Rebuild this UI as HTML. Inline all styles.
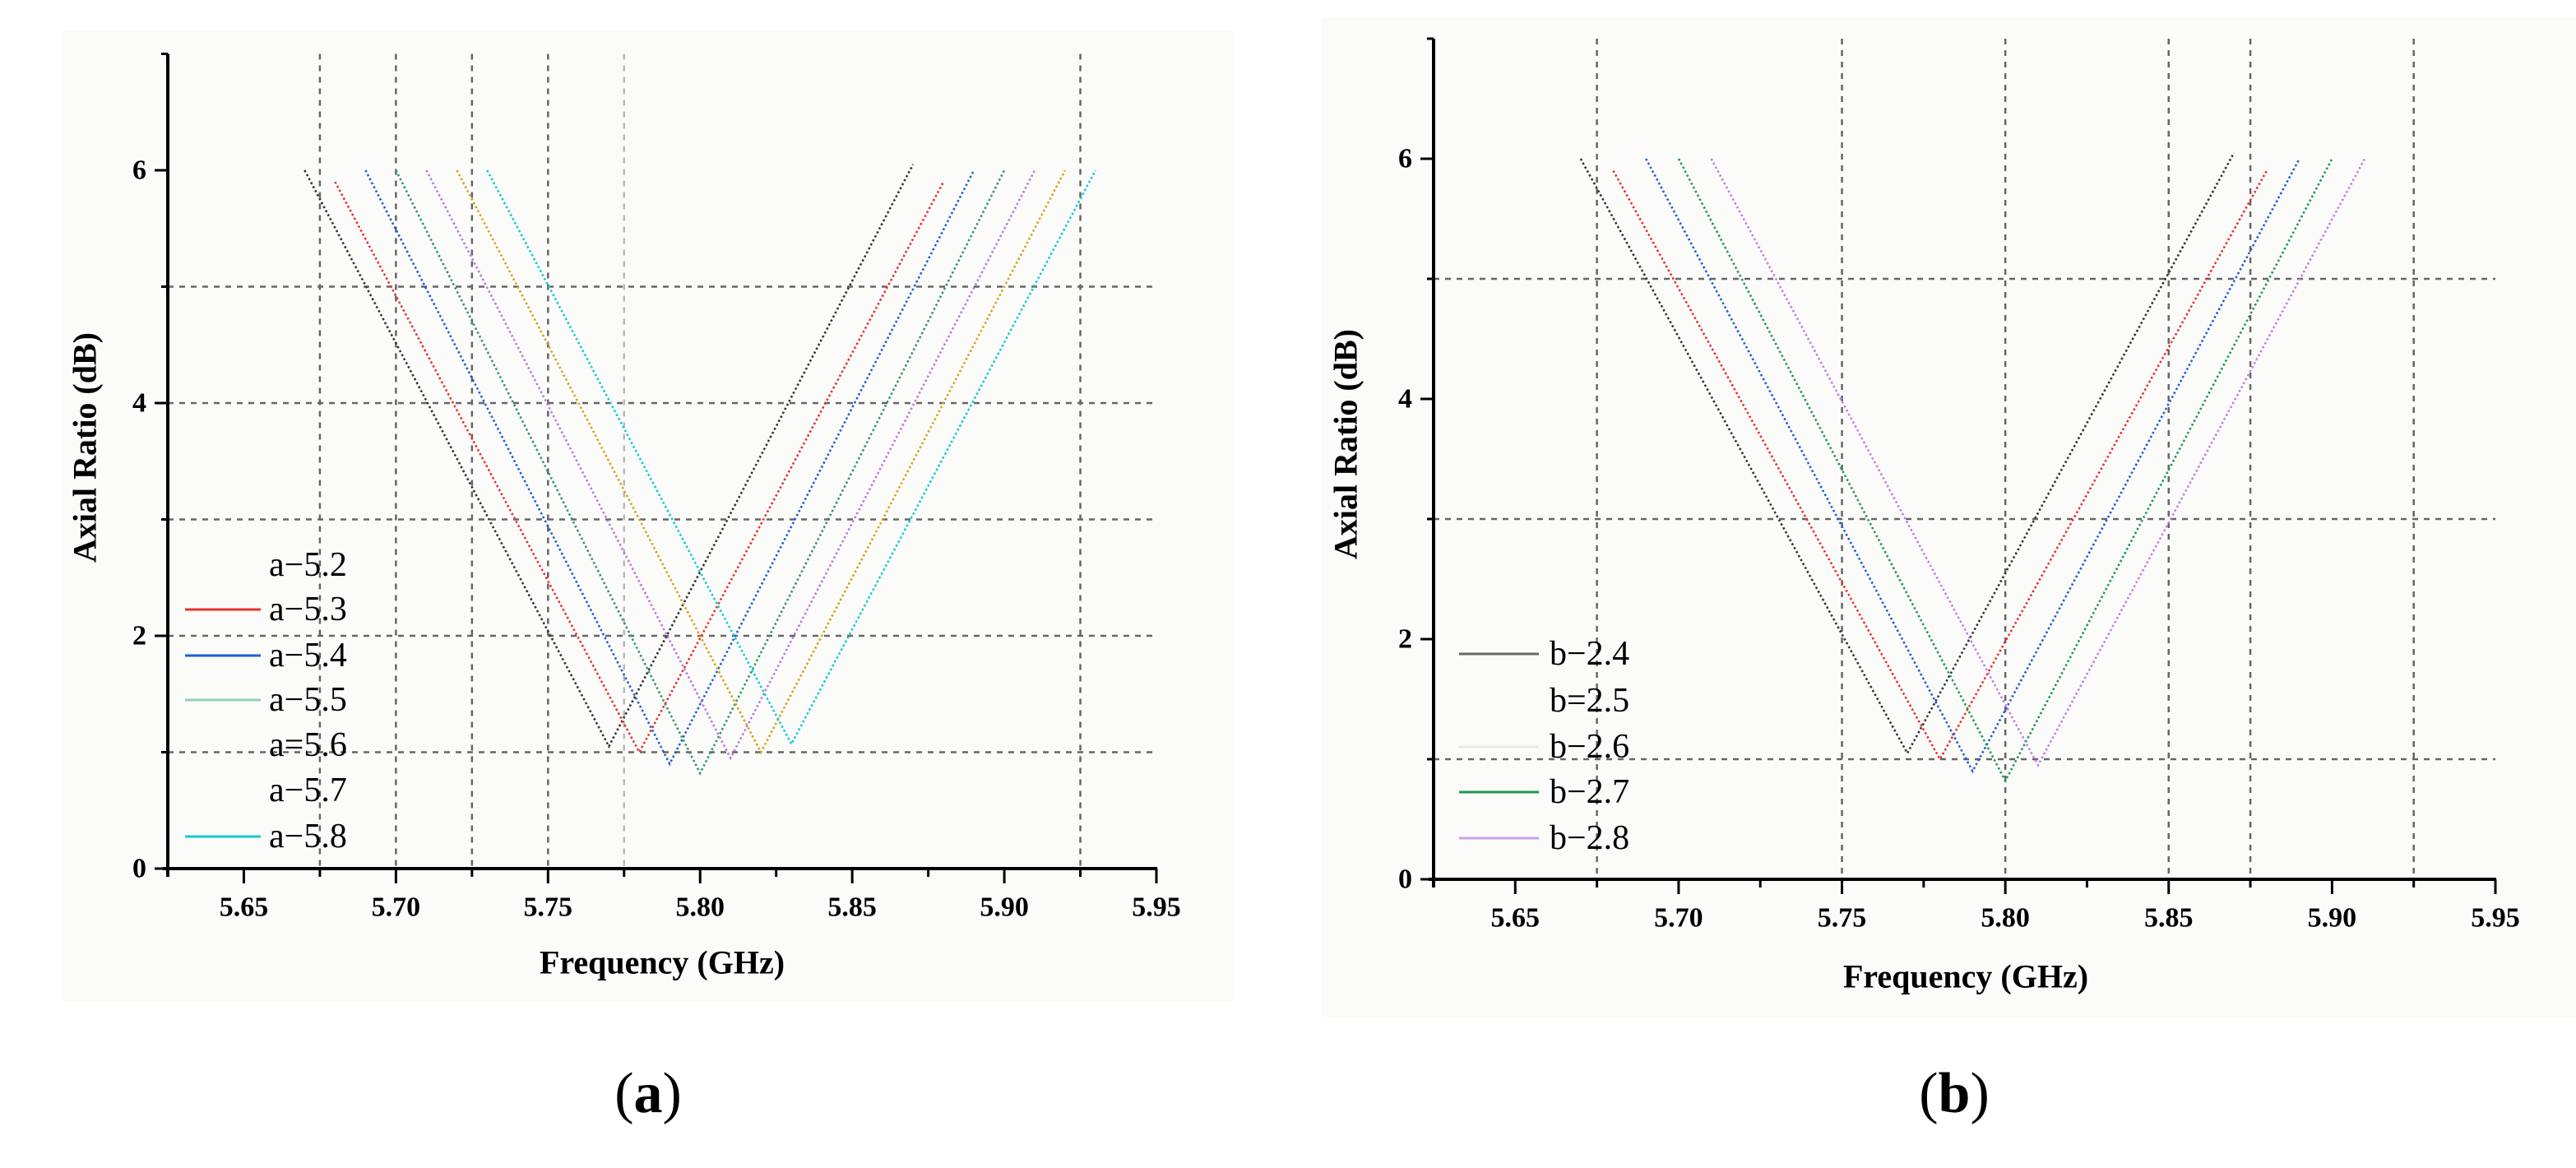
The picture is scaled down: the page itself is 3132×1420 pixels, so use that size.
<!DOCTYPE html>
<html><head><meta charset="utf-8">
<style>
html,body{margin:0;padding:0;background:#fff;}
svg{display:block;}
text{font-family:"Liberation Serif",serif;}
</style></head>
<body>
<svg id="svg" width="3132" height="1420" viewBox="0 0 3132 1420" xmlns="http://www.w3.org/2000/svg">
<rect x="75" y="37" width="1425" height="1180" fill="#fbfbfa"/>
<rect x="1606" y="21" width="1526" height="1216" fill="#fbfbfa"/>
<g id="chartA"></g>
<g id="chartB"></g>
<text x="788" y="1352" font-size="70" text-anchor="middle">(<tspan font-weight="bold">a</tspan>)</text>
<text x="2376" y="1352" font-size="70" text-anchor="middle">(<tspan font-weight="bold">b</tspan>)</text>
</svg>
<script>
// Chart A data
const aNames = ["a\u22125.2","a\u22125.3","a\u22125.4","a\u22125.5","a=5.6","a\u22125.7","a\u22125.8"];
const aColors = ["#333333","#e8322a","#1f5fd6","#2e9a5e","#b77be0","#d9a21a","#10cccc"];
const aLegendColors = ["#ffffff00","#e8322a","#1f5fd6","#8fd4a8","#ffffff00","#ffffff00","#10cccc"];
const aStartF = [5.67,5.68,5.69,5.70,5.71,5.72,5.73];
const aStartV = [6.0,5.9,6.0,6.0,6.0,6.0,6.0];
const aMinF = [5.77,5.78,5.79,5.80,5.81,5.82,5.83];
const aMinV = [1.05,1.0,0.9,0.82,0.95,1.0,1.07];
const aEndF = [5.87,5.88,5.89,5.90,5.91,5.92,5.93];
const aEndV = [6.05,5.9,6.0,6.0,6.0,6.0,6.0];
// Chart B data
const bNames = ["b\u22122.4","b=2.5","b\u22122.6","b\u22122.7","b\u22122.8"];
const bColors = ["#333333","#e8322a","#1f5fd6","#1e9a50","#c27fe4"];
const bLegendColors = ["#6a6a6a","#ffffff00","#e8e8e8","#1e9a50","#c9a0ea"];
const bStartF = [5.67,5.68,5.69,5.70,5.71];
const bStartV = [6.0,5.9,6.0,6.0,6.0];
const bMinF = [5.77,5.78,5.79,5.80,5.81];
const bMinV = [1.05,1.0,0.9,0.82,0.95];
const bEndF = [5.87,5.88,5.89,5.90,5.91];
const bEndV = [6.05,5.9,6.0,6.0,6.0];
const xTicks = [5.65,5.70,5.75,5.80,5.85,5.90,5.95];
const xTickLabels = ["5.65","5.70","5.75","5.80","5.85","5.90","5.95"];
const yTicks = [0,2,4,6];
const aVGrid = [5.675,5.70,5.725,5.75,5.775,5.925];
const aHGrid = [1,2,3,4,5];
const bVGrid = [5.675,5.75,5.80,5.85,5.875,5.925];
const bHGrid = [1,3,5];

const NS="http://www.w3.org/2000/svg";
function mk(parent,tag,attrs,txt){const e=document.createElementNS(NS,tag);for(const k in attrs)e.setAttribute(k,attrs[k]);if(txt!==undefined)e.textContent=txt;parent.appendChild(e);return e;}

function draw(g,cfg){
  const X=f=>cfg.x0+(f-5.625)/0.325*(cfg.x1-cfg.x0);
  const Y=v=>cfg.y0-v*cfg.ky;
  const top=Y(7);
  cfg.vgrid.forEach(f=>{
    const l=mk(g,"line",{x1:X(f),x2:X(f),y1:top,y2:cfg.y0,stroke:Math.abs(f-5.775)<1e-6?"#b8b8b8":"#666",
      "stroke-width":2.5,"stroke-dasharray":"7,7"});
    
    
  });
  cfg.hgrid.forEach(v=>{
    const l=mk(g,"line",{x1:cfg.x0,x2:X(5.95),y1:Y(v),y2:Y(v),stroke:"#666","stroke-width":2.5,"stroke-dasharray":"7,7"});
    
    
  });
  for(let i=0;i<cfg.names.length;i++){
    const pts=[[cfg.sf[i],cfg.sv[i]],[cfg.mf[i],cfg.mv[i]],[cfg.ef[i],cfg.ev[i]]].map(p=>X(p[0]).toFixed(1)+","+Y(p[1]).toFixed(1)).join(" ");
    const pl=mk(g,"polyline",{points:pts,fill:"none",stroke:cfg.colors[i],"stroke-width":2.6,"stroke-dasharray":"2.5,3"});
    
    
  }
  const ax=mk(g,"line",{x1:cfg.x0-6,x2:X(5.95)+1,y1:cfg.y0,y2:cfg.y0,stroke:"#000","stroke-width":4});
  
  
  const ay=mk(g,"line",{x1:cfg.x0,x2:cfg.x0,y1:top,y2:cfg.y0+10,stroke:"#000","stroke-width":4});
  
  
  for(let k=0;k<=13;k++){
    const f=5.625+k*0.025;
    const major=(k%2===1);
    mk(g,"line",{x1:X(f),x2:X(f),y1:cfg.y0,y2:cfg.y0+(major?18:10),stroke:"#000","stroke-width":3});
  }
  xTicks.forEach((f,i)=>{
    const t=mk(g,"text",{x:X(f),y:cfg.xlab,"font-size":34,"font-weight":"bold","text-anchor":"middle","dominant-baseline":"central"},xTickLabels[i]);
    
    
  });
  for(let v=0;v<=7;v++){
    mk(g,"line",{x1:cfg.x0-(v%2===0?16:8),x2:cfg.x0,y1:Y(v),y2:Y(v),stroke:"#000","stroke-width":3});
  }
  yTicks.forEach(v=>{
    const t=mk(g,"text",{x:cfg.x0-26,y:Y(v),"font-size":34,"font-weight":"bold","text-anchor":"end","dominant-baseline":"central"},String(v));
    
    
  });
  const xt=mk(g,"text",{x:cfg.xtX,y:cfg.xtY,"font-size":40,"font-weight":"bold","text-anchor":"middle","dominant-baseline":"central"},"Frequency (GHz)");
  
  
  const yt=mk(g,"text",{x:cfg.ytX,y:cfg.ytY,"font-size":40,"font-weight":"bold","text-anchor":"middle","dominant-baseline":"central",transform:`rotate(-90 ${cfg.ytX} ${cfg.ytY})`},"Axial Ratio (dB)");
  
  
  cfg.names.forEach((n,i)=>{
    const y=cfg.legY[i];
    const ll=mk(g,"line",{x1:cfg.legX1,x2:cfg.legX2,y1:y,y2:y,stroke:cfg.legColors[i],"stroke-width":3});
    
    
    const lt=mk(g,"text",{x:cfg.legT,y:y,"font-size":42,"dominant-baseline":"central"},n);
    
    
  });
}

draw(document.getElementById("chartA"),{x0:204,x1:1406,y0:1056,ky:141.5,vgrid:aVGrid,hgrid:aHGrid,
  names:aNames,colors:aColors,legColors:aLegendColors,sf:aStartF,sv:aStartV,mf:aMinF,mv:aMinV,ef:aEndF,ev:aEndV,
  xlab:1103,xtX:805,xtY:1170,ytX:103,ytY:544,legX1:225,legX2:317,legT:327,legY:[687,741,797,851,906,961,1017]});
draw(document.getElementById("chartB"),{x0:1743,x1:3034,y0:1069,ky:146,vgrid:bVGrid,hgrid:bHGrid,
  names:bNames,colors:bColors,legColors:bLegendColors,sf:bStartF,sv:bStartV,mf:bMinF,mv:bMinV,ef:bEndF,ev:bEndV,
  xlab:1116,xtX:2390,xtY:1187,ytX:1636,ytY:540,legX1:1774,legX2:1871,legT:1884,legY:[795,852,908,963,1019]});
</script>
</body></html>
